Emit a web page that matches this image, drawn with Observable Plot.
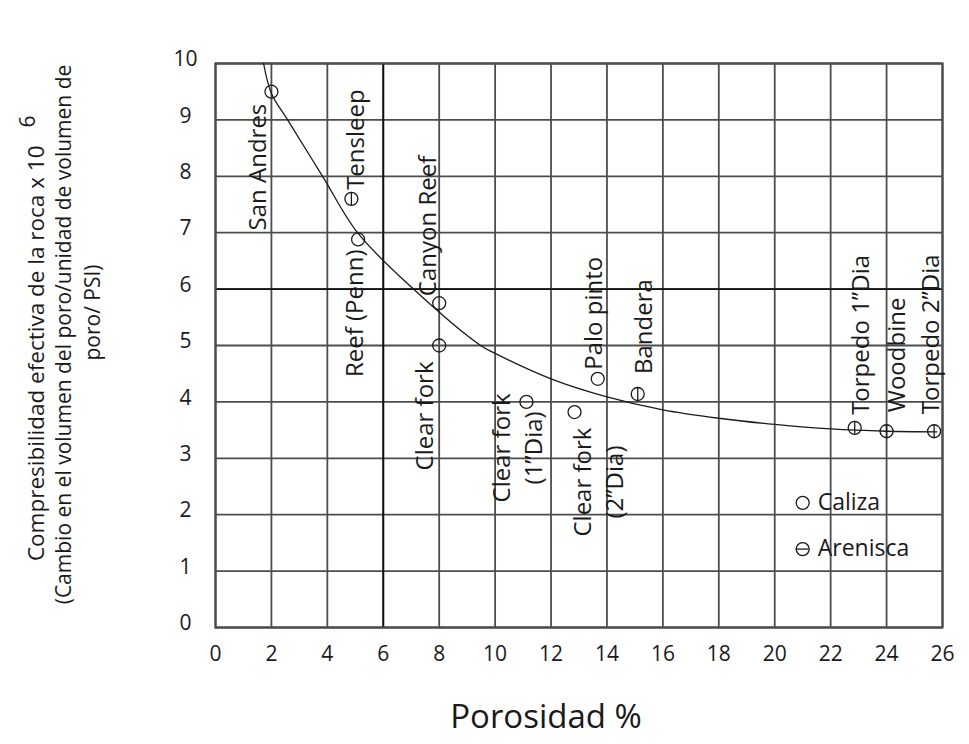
<!DOCTYPE html>
<html>
<head>
<meta charset="utf-8">
<script src="https://cdn.jsdelivr.net/npm/d3@7"></script>
<script src="https://cdn.jsdelivr.net/npm/@observablehq/plot@0.6"></script>
<style>
  body { margin: 0; background: #fff; }
  #chart svg { display: block; }
</style>
</head>
<body>
<div id="chart"></div>
<script>
// ---------- data ----------
const rockNames = ["San Andres", "Tensleep", "Reef (Penn)", "Canyon Reef", "Clear fork",
  "Clear fork\n(1”Dia)", "Clear fork\n(2”Dia)", "Palo pinto", "Bandera",
  "Torpedo 1”Dia", "Woodbine", "Torpedo 2”Dia"];
const porosity = [2.0, 4.86, 5.1, 8.0, 8.0, 11.12, 12.84, 13.67, 15.1, 22.86, 24.0, 25.7];
const compressibility = [9.5, 7.6, 6.88, 5.75, 5.0, 4.0, 3.82, 4.41, 4.14, 3.54, 3.48, 3.48];
const rockType = ["Caliza", "Arenisca", "Caliza", "Caliza", "Caliza", "Caliza", "Caliza",
  "Caliza", "Arenisca", "Arenisca", "Arenisca", "Arenisca"];

// fitted trend curve
const curvePorosity = [1.72, 2.0, 2.58, 3.83, 5.08, 7.08, 9.48, 10, 12, 14, 16, 18, 20, 22, 24, 25.8];
const curveCompressibility = [10, 9.47, 9.0, 8.0, 7.0, 6.0, 5.0, 4.86, 4.41, 4.09, 3.86, 3.71, 3.6, 3.52, 3.48, 3.47];

// legend
const legendLabels = ["Caliza", "Arenisca"];
const legendPorosity = [21, 21];
const legendCompressibility = [2.21, 1.39];

// ticks
const xTicks = [0, 2, 4, 6, 8, 10, 12, 14, 16, 18, 20, 22, 24, 26];
const yTicks = [0, 1, 2, 3, 4, 5, 6, 7, 8, 9, 10];
const majorTick = [6];

// text
const xTitle = "Porosidad %";
const yTitleLines = ["Compresibilidad efectiva de la roca x 10",
  "(Cambio en el volumen del poro/unidad de volumen de",
  "poro/ PSI)"];
const yTitleExponent = "6";

// label placement (screen offsets from each point)
const labelPlacement = [
  {anchor: "end", dx: -16, dy: 12},
  {anchor: "start", dx: 2, dy: -9},
  {anchor: "end", dx: -5, dy: 10},
  {anchor: "start", dx: -14, dy: -7},
  {anchor: "end", dx: -17, dy: 16},
  {anchor: "middle", dx: -11, dy: 46},
  {anchor: "middle", dx: 22, dy: 70},
  {anchor: "start", dx: -6, dy: -9},
  {anchor: "start", dx: 4, dy: -20},
  {anchor: "start", dx: 4, dy: -13},
  {anchor: "start", dx: 8, dy: -19},
  {anchor: "start", dx: -5, dy: -17}
];

// ---------- layout ----------
const W = 969, H = 744, mL = 215, mR = 27, mT = 63, mB = 117;
const markerR = 6.5;
const xUnitPx = (W - mL - mR) / 26;
const yUnitPx = (H - mT - mB) / 10;

// ---------- tables ----------
const points = rockNames.map((name, i) => ({name, x: porosity[i], y: compressibility[i], type: rockType[i]}));
const sandstone = points.filter(d => d.type === "Arenisca");
const curve = curvePorosity.map((x, i) => ({x, y: curveCompressibility[i]}));
const legend = legendLabels.map((name, i) => ({name, x: legendPorosity[i], y: legendCompressibility[i]}));

const ink = "#1a1a1a";
const gridColor = "#4d4d4d";

const labelMarks = points.map((p, i) => Plot.text([p], {
  x: "x", y: "y", text: "name",
  rotate: -90,
  textAnchor: labelPlacement[i].anchor,
  dx: labelPlacement[i].dx, dy: labelPlacement[i].dy,
  fontSize: 24, lineHeight: 1.35, fill: ink
}));

const chart = Plot.plot({
  width: W,
  height: H,
  marginLeft: mL,
  marginRight: mR,
  marginTop: mT,
  marginBottom: mB,
  x: {domain: [0, 26], axis: null},
  y: {domain: [0, 10], axis: null},
  style: {fontFamily: "'Open Sans', 'DejaVu Sans', sans-serif", background: "#fff", color: ink},
  marks: [
    Plot.ruleX(xTicks, {x: d => d, stroke: gridColor, strokeWidth: 1.8}),
    Plot.ruleY(yTicks, {y: d => d, stroke: gridColor, strokeWidth: 1.8}),
    Plot.ruleX(majorTick, {x: d => d, stroke: "#111", strokeWidth: 1.8}),
    Plot.ruleY(majorTick, {y: d => d, stroke: "#111", strokeWidth: 1.8}),
    Plot.frame({stroke: gridColor, strokeWidth: 2.2}),
    Plot.line(curve, {x: "x", y: "y", curve: "catmull-rom", stroke: ink, strokeWidth: 1.3}),
    // markers: all rocks are rings; sandstones get a vertical bar
    Plot.dot(points, {x: "x", y: "y", r: markerR, stroke: ink, strokeWidth: 1.3, fill: "none"}),
    Plot.ruleX(sandstone, {x: "x", y1: d => d.y - markerR / yUnitPx, y2: d => d.y + markerR / yUnitPx, stroke: ink, strokeWidth: 1.3}),
    ...labelMarks,
    // legend
    Plot.dot(legend, {x: "x", y: "y", r: markerR, stroke: ink, strokeWidth: 1.3, fill: "none"}),
    Plot.ruleY(legend.slice(1, 2), {y: "y", x1: d => d.x - markerR / xUnitPx, x2: d => d.x + markerR / xUnitPx, stroke: ink, strokeWidth: 1.3}),
    Plot.text(legend, {x: "x", y: "y", text: "name", textAnchor: "start", dx: 15, fontSize: 23, fill: ink}),
    // tick labels
    Plot.text(xTicks, {x: d => d, text: d => String(d), frameAnchor: "bottom", dy: 33, fontSize: 21, fill: ink}),
    Plot.text(yTicks, {y: d => d, text: d => String(d), frameAnchor: "left", dx: -30, dy: -4, textAnchor: "middle", fontSize: 21, fill: ink}),
    // axis titles
    Plot.text([xTitle], {text: d => d, frameAnchor: "bottom", dx: -33, dy: 100, fontSize: 33, fill: ink}),
    Plot.text([yTitleLines[0]], {text: d => d, frameAnchor: "left", rotate: -90, textAnchor: "end", dx: -179, dy: -200, fontSize: 22.5, fill: ink}),
    Plot.text([yTitleLines[1]], {text: d => d, frameAnchor: "left", rotate: -90, textAnchor: "middle", dx: -151, dy: -11, fontSize: 21, fill: ink}),
    Plot.text([yTitleLines[2]], {text: d => d, frameAnchor: "left", rotate: -90, textAnchor: "middle", dx: -122, dy: -33, fontSize: 21, fill: ink}),
    Plot.text([yTitleExponent], {text: d => d, frameAnchor: "left", rotate: -90, textAnchor: "middle", dx: -187, dy: -224, fontSize: 21, fill: ink})
  ]
});

document.getElementById("chart").appendChild(chart);
</script>
</body>
</html>
